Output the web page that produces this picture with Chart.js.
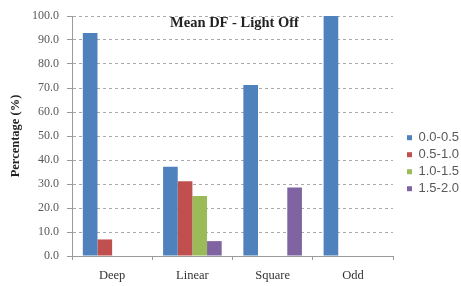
<!DOCTYPE html>
<html>
<head>
<meta charset="utf-8">
<script src="https://cdn.jsdelivr.net/npm/chart.js@4.4.1/dist/chart.umd.min.js"></script>
<style>
html,body{margin:0;padding:0;background:#fff;}
#wrap{width:461px;height:286px;position:relative;}
</style>
</head>
<body>
<div id="wrap"><canvas id="c"></canvas></div>
<script>
const categories=['Deep','Linear','Square','Odd'];
const seriesNames=['0.0-0.5','0.5-1.0','1.0-1.5','1.5-2.0'];
const s1=[92.9,37.2,71.3,100.0];
const s2=[6.9,31.1,0,0];
const s3=[0,25.0,0,0];
const s4=[0,6.2,28.5,0];
const colors=['#4F81BD','#C0504D','#9BBB59','#8064A2'];
const chartTitle='Mean DF - Light Off';
const yTitle='Percentage (%)';

// title sits inside the plot area, like the Excel original
const inTitle={id:'inTitle',afterDraw(chart){
  const a=chart.chartArea, ctx=chart.ctx;
  ctx.save(); ctx.font='bold 14.5px "Liberation Serif", serif'; ctx.fillStyle='#222';
  ctx.textAlign='center'; ctx.textBaseline='middle';
  ctx.fillText(chartTitle,(a.left+a.right)/2+2,a.top+7); ctx.restore();
}};
// push legend towards the right edge
const legendShift={id:'legendShift',afterLayout(chart){
  if(chart.legend){chart.legend.left+=10; chart.legend.right+=10;}
}};

const ctx=document.getElementById('c');
new Chart(ctx,{type:'bar',
  data:{labels:categories,datasets:[s1,s2,s3,s4].map((d,i)=>({label:seriesNames[i],data:d,backgroundColor:colors[i],categoryPercentage:0.73,barPercentage:1}))},
  options:{responsive:true,maintainAspectRatio:false,animation:false,
    layout:{padding:{top:16,left:0,right:2,bottom:0}},
    plugins:{tooltip:{enabled:false},
      legend:{position:'right',labels:{boxWidth:5,boxHeight:5,padding:4,color:'#595959',font:{family:'"Liberation Sans", Arial, sans-serif',size:13}},
        title:{display:true,text:' ',padding:{top:10,bottom:0}}}},
    scales:{
      x:{afterFit(s){s.height=30;},
        grid:{drawOnChartArea:false,drawTicks:true,tickLength:4,color:'#9a9a9a'},border:{color:'#9a9a9a'},
        ticks:{color:'#333',font:{family:'"Liberation Serif", serif',size:12.5},padding:8}},
      y:{afterFit(s){s.width=72;},
        min:0,max:100,grid:{color:'#aaaaaa',tickLength:5,tickColor:'#9a9a9a'},border:{color:'#9a9a9a',dash:[3,3]},
        ticks:{stepSize:10,color:'#595959',padding:8,font:{family:'"Liberation Serif", serif',size:12},callback:v=>v.toFixed(1)},
        title:{display:true,text:yTitle,color:'#222',font:{family:'"Liberation Serif", serif',size:12.5,weight:'bold'},padding:{top:8,bottom:6}}}
    }},
  plugins:[inTitle,legendShift]});
</script>
</body>
</html>
